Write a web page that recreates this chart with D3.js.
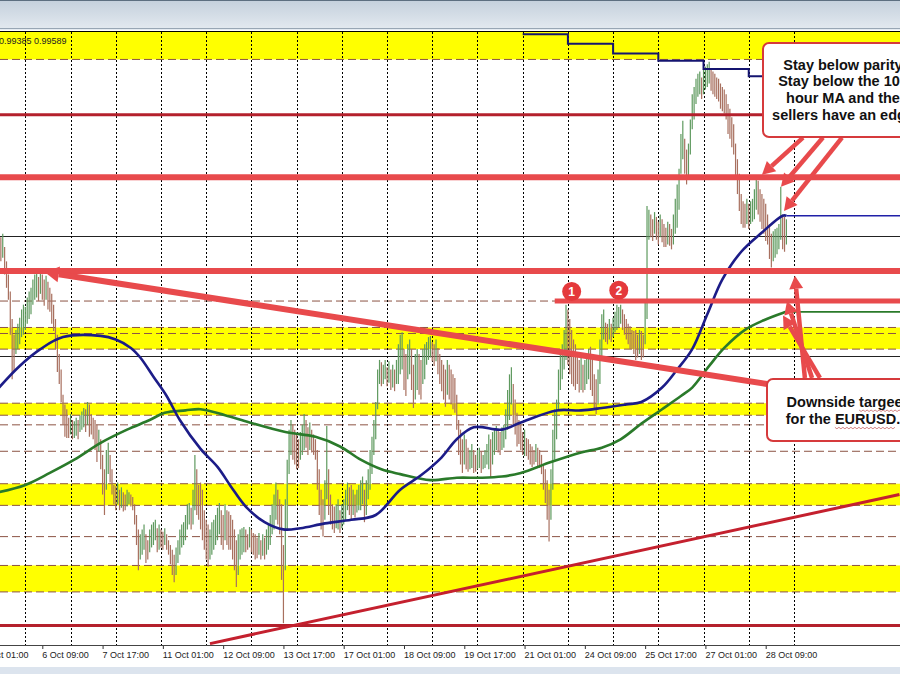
<!DOCTYPE html>
<html>
<head>
<meta charset="utf-8">
<title>EURUSD H1</title>
<script src="https://cdnjs.cloudflare.com/ajax/libs/d3/7.8.5/d3.min.js"></script>
<style>
html, body { margin: 0; padding: 0; background: #fff; overflow: hidden; }
svg { display: block; font-family: "Liberation Sans", Arial, sans-serif; }
</style>
</head>
<body>
<div id="graph"></div>
<script>
const width = 900,
    height = 674,
    plotTop = 32,     // below the window title strip
    plotBottom = 645; // time axis line

// EURUSD hourly bars, bar 0 = 5 Oct 01:00, prices x 10000
const firstBar = 10;
const highs = [
  9950,9953,9942,9930,9919,9905,9882,9869,
  9873,9878,9883,9890,9894,9892,9900,9905,9908,
  9915,9919,9922,9917,9921,9919,9915,9918,9913,9908,
  9903,9894,9882,9869,9853,9840,9819,9811,9807,
  9800,9803,9798,9797,9800,9798,9802,
  9805,9808,9807,9813,9811,9803,9800,9798,9794,9790,
  9782,9769,9757,9773,9779,9769,9757,9744,9743,9746,9740,9742,9738,9736,9740,9738,9736,9734,
  9728,9719,9707,9703,9707,9711,9703,9698,9707,9711,9713,9715,9708,9711,9707,9705,9708,9703,9698,
  9694,9690,9686,9692,9698,9707,9711,9713,9719,9728,9729,9725,9740,9769,9757,9744,9746,
  9740,9723,9715,9711,9707,9713,9715,9719,9725,9729,9723,9719,9728,9723,9722,
  9719,9715,9707,9698,9703,9707,9708,9709,9707,9703,9709,9707,9704,9703,9700,9704,9698,9703,9700,9707,9711,9719,9728,9736,9746,9740,9732,9728,9694,
  9732,9765,9790,9798,9794,9790,9786,9782,9788,9794,9803,9798,9792,9796,9790,9786,9782,
  9773,9757,9740,9732,9748,9793,9757,9736,9728,9726,9728,9732,9723,9728,9732,9740,9746,9742,9744,9740,9736,9740,9744,
  9748,9751,9740,9748,9757,9773,9784,9798,9813,9840,9848,9846,
  9844,9848,9842,9847,9840,9844,9840,9848,9861,9869,9871,9857,9853,9861,9865,9857,9844,9853,9857,9853,9848,9857,9861,
  9863,9867,9868,9863,9861,9865,9858,9853,9848,9844,9840,9848,9844,9840,9836,9833,
  9819,9798,9790,9782,9786,9782,9775,9773,9778,9773,9769,9773,9775,9772,9769,9773,9778,9786,9782,9788,9790,9793,9790,9788,9792,9794,
  9807,9823,9836,9842,9828,9815,9804,9798,9794,9788,9790,9783,9782,9778,9776,9773,9778,9775,9773,9769,9761,9757,9748,9740,9757,9790,9807,9815,
  9840,9857,9861,9873,9894,9890,9882,9873,9865,9861,9853,9848,9851,9844,9848,9853,9857,9859,9848,9836,9832,9840,
  9865,9886,9890,9879,9878,9882,9878,9883,9888,9894,9892,9894,9890,9886,9882,9878,9876,9873,9872,9873,9869,9873,9872,9869,
  9898,9976,9973,9969,9965,9971,9967,9963,9969,9965,9961,9958,9963,9961,9957,9969,9982,9994,10007,
  10036,10047,10032,10023,10028,10048,10069,10075,10082,10086,10088,10083,10090,
  10092,10094,10096,10090,10088,10086,10083,10082,10078,10075,10073,10069,10061,10057,10050,10044,
  10028,10015,10003,9986,9980,9978,9982,9978,9980,9982,9990,9998,9997,9990,9986,9982,9978,9969,9961,9953,9955,9957,9958,9961,9992,9969,9967,9965
];
const lows = [
  9930,9933,9919,9908,9898,9869,9832,9838,
  9853,9857,9861,9867,9869,9873,9878,9882,9886,
  9894,9898,9900,9897,9903,9898,9893,9898,9890,9888,
  9878,9872,9857,9838,9828,9813,9794,9784,9783,
  9783,9786,9782,9783,9785,9782,9788,
  9790,9792,9788,9794,9784,9786,9782,9773,9763,9772,
  9757,9736,9719,9740,9753,9746,9736,9728,9723,9728,9723,9725,9722,9723,9726,9728,9726,9723,
  9711,9694,9673,9682,9686,9690,9679,9682,9688,9692,9694,9698,9688,9690,9692,9690,9694,9690,9686,
  9678,9669,9663,9669,9679,9686,9692,9694,9698,9707,9711,9707,9711,9723,9719,9715,9707,
  9698,9690,9682,9676,9682,9686,9690,9694,9698,9703,9694,9690,9698,9694,9690,
  9690,9682,9673,9659,9669,9682,9686,9688,9688,9690,9692,9688,9686,9682,9683,9686,9682,9685,9682,9686,9690,9694,9703,9707,9715,9711,9703,9665,9629,
  9673,9707,9753,9769,9765,9761,9757,9758,9765,9769,9773,9775,9769,9773,9771,9769,9765,
  9740,9719,9707,9701,9715,9732,9719,9711,9707,9704,9708,9707,9704,9708,9711,9715,9723,9719,9715,9719,9717,9721,9723,
  9723,9728,9713,9719,9732,9740,9753,9769,9782,9807,9828,9826,
  9828,9832,9826,9829,9823,9825,9822,9828,9828,9836,9840,9823,9818,9832,9836,9823,9808,9815,9823,9819,9815,9828,9832,
  9844,9848,9850,9847,9843,9847,9836,9828,9822,9815,9809,9819,9815,9811,9807,9804,
  9790,9769,9761,9754,9761,9757,9755,9757,9758,9754,9755,9757,9758,9754,9757,9758,9761,9757,9750,9761,9769,9773,9771,9769,9773,9775,
  9782,9790,9798,9811,9794,9786,9776,9778,9773,9769,9768,9768,9765,9761,9759,9761,9763,9759,9758,9753,9740,9729,9715,9697,9715,9740,9765,9782,
  9807,9823,9832,9840,9848,9844,9836,9828,9826,9823,9828,9821,9823,9821,9823,9828,9832,9823,9818,9807,9803,9811,
  9828,9848,9865,9863,9861,9865,9863,9867,9871,9873,9875,9878,9873,9869,9865,9861,9857,9857,9853,9848,9850,9853,9848,9850,
  9861,9882,9948,9950,9947,9953,9948,9944,9950,9946,9942,9942,9944,9943,9940,9944,9953,9958,9973,
  10003,10015,10003,9994,9998,10019,10040,10048,10061,10067,10069,10065,10069,
  10073,10075,10078,10072,10069,10067,10065,10063,10057,10055,10053,10048,10036,10032,10025,10019,
  9998,9986,9972,9961,9958,9958,9961,9957,9961,9963,9965,9973,9969,9963,9957,9953,9947,9944,9932,9925,9930,9933,9936,9940,9948,9940,9938,9944
];

// time axis, a label every 32 bars
const tickBars = [0, 32, 64, 96, 128, 160, 192, 224, 256, 288, 320, 352, 384, 416];
const tickLabels = ["5 Oct 01:00", "6 Oct 09:00", "7 Oct 17:00", "11 Oct 01:00", "12 Oct 09:00",
  "13 Oct 17:00", "17 Oct 01:00", "18 Oct 09:00", "19 Oct 17:00", "21 Oct 01:00",
  "24 Oct 09:00", "25 Oct 17:00", "27 Oct 01:00", "28 Oct 09:00"];
// midnight bars (period separators)
const daySeparators = [23, 47, 71, 95, 119, 143, 167, 191, 215, 239, 263, 287, 311, 335, 359, 383, 407, 431];

// 100 hour MA (blue) and 200 hour MA (green)
const ma100Bars = [9,20,31,43,63,71,79,84,91,98,105,116,125,132,140,150,160,169,182,196,
  209,222,233,244,252,261,276,286,305,318,329,342,350,361,369,377,385,393,403,414,425,427];
const ma100 = [9825,9843,9857,9867,9868,9865,9858,9850,9834,9818,9798,9774,9759,9743,9726,9713,9707,9708,9712,9715,
  9719,9740,9752,9767,9782,9792,9790,9796,9806,9806,9808,9811,9813,9825,9840,9857,9886,9915,9938,9954,9968,9968];
const ma200Bars = [9,23,36,49,63,77,89,97,108,116,129,142,161,177,190,201,212,222,238,252,
  265,276,286,302,318,329,339,350,361,371,377,386,394,405,415,425,427];
const ma200 = [9738,9744,9754,9765,9779,9790,9798,9804,9806,9807,9802,9796,9788,9784,9776,9765,9757,9753,9748,9750,
  9750,9751,9754,9763,9771,9775,9782,9795,9807,9818,9825,9843,9858,9873,9881,9887,9888];
// daily MA shown as steps on the hourly chart
const dailyMaBars = [287, 311, 335, 359, 383, 407, 428];
const dailyMa = [10119, 10111, 10103, 10097, 10090, 10084, 10084];

// drawn levels
const bandTops = [10121, 9875, 9812, 9745, 9677];
const bandBottoms = [10098, 9857, 9802, 9727, 9655];
const dashedLevels = [10098, 9897, 9875, 9870, 9857, 9812, 9802, 9794, 9772, 9745, 9727, 9701, 9677, 9655];
const thinLevels = [9951, 9851];
const redLevels = [10000, 9922];
const darkRedLevels = [10052, 9627];
const targetLevel = 9897, targetFromBar = 304;
const trendDown = [[416.7, 9828], [33.4, 9921]];
const trendUp = [[121, 9612], [487, 9736]];
const swingMarks = [{bar: 313, price: 9905, label: "1"}, {bar: 338, price: 9906, label: "2"}];
// [fromBar, fromPrice, toBar, toPrice]
const topArrows = [[435.8, 10033, 414.0, 10002], [446.4, 10033, 424.1, 9992], [456.5, 10033, 425.7, 9972]];
const lowArrows = [[436.8, 9833, 431.5, 9918], [440.6, 9833, 427.3, 9897], [444.8, 9833, 425.2, 9885]];
const noteTop = ["Stay below parity", "Stay below the 100", "hour MA and the", "sellers have an edge"];
const noteLow = ["Downside targeet", "for the EURUSD..."];

const x = d3.scaleLinear().domain([0, 416]).range([-17.98, 765.7]);
const y = d3.scaleLinear().domain([9610.83, 10120.83]).range([plotBottom, plotTop]);

const svg = d3.select("#graph")
    .append("svg")
    .attr("width", width)
    .attr("height", height);

const defs = svg.append("defs");
const grad = defs.append("linearGradient").attr("id", "chrome")
    .attr("x1", 0).attr("y1", 0).attr("x2", 0).attr("y2", 1);
grad.append("stop").attr("offset", 0).attr("stop-color", "#c4d0dc");
grad.append("stop").attr("offset", 1).attr("stop-color", "#e4eaf0");
defs.append("clipPath").attr("id", "plot")
  .append("rect").attr("x", 0).attr("y", plotTop).attr("width", width).attr("height", plotBottom - plotTop);

// window chrome
svg.append("rect").attr("width", width).attr("height", 30).attr("fill", "url(#chrome)");
svg.append("line").attr("x1", 0).attr("x2", width).attr("y1", 0.5).attr("y2", 0.5).attr("stroke", "#5d6f80");
svg.append("line").attr("x1", 0).attr("x2", width).attr("y1", 28.5).attr("y2", 28.5).attr("stroke", "#98a6b4");
svg.append("rect").attr("y", 667).attr("width", width).attr("height", 7).attr("fill", "#dce4ee");

const plot = svg.append("g").attr("clip-path", "url(#plot)");

// yellow zones
plot.selectAll(".band")
  .data(bandTops)
  .enter()
  .append("rect")
  .attr("class", "band")
  .attr("x", 0)
  .attr("width", width)
  .attr("y", d => y(d))
  .attr("height", (d, i) => y(bandBottoms[i]) - y(d))
  .attr("fill", "#ffff00");

plot.selectAll(".dash")
  .data(dashedLevels)
  .enter()
  .append("line")
  .attr("class", "dash")
  .attr("x1", 0).attr("x2", width)
  .attr("y1", d => y(d)).attr("y2", d => y(d))
  .attr("stroke", "#8c5444")
  .attr("stroke-width", 1)
  .attr("stroke-dasharray", "8,4");

plot.selectAll(".thin")
  .data(thinLevels)
  .enter()
  .append("line")
  .attr("x1", 0).attr("x2", width)
  .attr("y1", d => Math.round(y(d)) + 0.5).attr("y2", d => Math.round(y(d)) + 0.5)
  .attr("stroke", "#222");

plot.selectAll(".sep")
  .data(daySeparators)
  .enter()
  .append("line")
  .attr("x1", d => Math.round(x(d)) + 0.5).attr("x2", d => Math.round(x(d)) + 0.5)
  .attr("y1", plotTop).attr("y2", plotBottom)
  .attr("stroke", "#000")
  .attr("stroke-dasharray", "2,2");

// hourly bars
const bars = highs.map((h, k) => ({ i: firstBar + k, h: h, l: lows[k] }));
plot.append("g").selectAll("line")
  .data(bars)
  .enter()
  .append("line")
  .attr("x1", d => x(d.i)).attr("x2", d => x(d.i))
  .attr("y1", d => y(d.h)).attr("y2", d => y(d.l))
  .attr("stroke-width", 1.2)
  .attr("stroke", (d, k) => {
    if (k == 0) return "#a8705f";
    const prev = bars[k - 1];
    return (d.h + d.l) >= (prev.h + prev.l) ? "#5f9a5f" : "#a8705f";
  });

// moving averages
const maLine = d3.line().curve(d3.curveCatmullRom).x(d => x(d[0])).y(d => y(d[1]));
plot.append("path")
  .attr("d", maLine(ma200Bars.map((b, i) => [b, ma200[i]])))
  .attr("fill", "none").attr("stroke", "#2a7a2a").attr("stroke-width", 2.6);
plot.append("path")
  .attr("d", maLine(ma100Bars.map((b, i) => [b, ma100[i]])))
  .attr("fill", "none").attr("stroke", "#1c1c88").attr("stroke-width", 2.6);
plot.append("path")
  .attr("d", d3.line().curve(d3.curveStepAfter).x(d => x(d[0])).y(d => y(d[1]))(dailyMaBars.map((b, i) => [b, dailyMa[i]])))
  .attr("fill", "none").attr("stroke", "#141470").attr("stroke-width", 2);
// MA levels carried to the right
[[ma100Bars, ma100, "#2020a8"], [ma200Bars, ma200, "#2a7a2a"]].forEach(m => {
  const last = m[1][m[1].length - 1];
  plot.append("line")
    .attr("x1", x(m[0][m[0].length - 1])).attr("x2", width)
    .attr("y1", y(last)).attr("y2", y(last))
    .attr("stroke", m[2]).attr("stroke-width", 1.6);
});

// dark red levels and rising trend line
plot.selectAll(".dred")
  .data(darkRedLevels)
  .enter()
  .append("line")
  .attr("x1", 0).attr("x2", width)
  .attr("y1", d => y(d)).attr("y2", d => y(d))
  .attr("stroke", "#b4202c").attr("stroke-width", 3);
plot.append("line")
  .attr("x1", x(trendUp[0][0])).attr("y1", y(trendUp[0][1]))
  .attr("x2", x(trendUp[1][0])).attr("y2", y(trendUp[1][1]))
  .attr("stroke", "#c4202e").attr("stroke-width", 3);

// thick red levels
const red = "#e84a4c";
plot.selectAll(".red")
  .data(redLevels)
  .enter()
  .append("line")
  .attr("x1", 0).attr("x2", width)
  .attr("y1", d => y(d)).attr("y2", d => y(d))
  .attr("stroke", red).attr("stroke-width", 6);
plot.append("line")
  .attr("x1", x(targetFromBar)).attr("x2", width)
  .attr("y1", y(targetLevel)).attr("y2", y(targetLevel))
  .attr("stroke", red).attr("stroke-width", 5);

function arrow(g, a, w, head, half) {
  const x1 = x(a[0]), y1 = y(a[1]), x2 = x(a[2]), y2 = y(a[3]);
  const ang = Math.atan2(y2 - y1, x2 - x1);
  const bx = x2 - head * Math.cos(ang), by = y2 - head * Math.sin(ang);
  g.append("line")
    .attr("x1", x1).attr("y1", y1).attr("x2", bx).attr("y2", by)
    .attr("stroke", red).attr("stroke-width", w);
  g.append("path")
    .attr("d", "M" + x2 + "," + y2 +
      "L" + (bx + half * Math.sin(ang)) + "," + (by - half * Math.cos(ang)) +
      "L" + (bx - half * Math.sin(ang)) + "," + (by + half * Math.cos(ang)) + "Z")
    .attr("fill", red);
}
arrow(plot, [trendDown[0][0], trendDown[0][1], trendDown[1][0], trendDown[1][1]], 6, 14, 8);

// swing highs 1 and 2
const marks = plot.selectAll(".mark").data(swingMarks).enter().append("g")
  .attr("transform", d => "translate(" + x(d.bar) + "," + y(d.price) + ")");
marks.append("circle").attr("r", 9.5).attr("fill", "#e4393b");
marks.append("text").text(d => d.label)
  .attr("text-anchor", "middle").attr("dy", "0.36em")
  .attr("fill", "#fff").attr("font-size", "12px").attr("font-weight", "bold");

// notes
topArrows.forEach(a => arrow(plot, a, 4.5, 13, 7));
lowArrows.forEach(a => arrow(plot, a, 4.5, 13, 7));

function note(bx, by, bh, cx, lines, first, step) {
  plot.append("rect")
    .attr("x", bx).attr("y", by).attr("width", 170).attr("height", bh)
    .attr("rx", 6)
    .attr("fill", "#fff").attr("stroke", "#d63a3c").attr("stroke-width", 2);
  return lines.map((t, i) => plot.append("text")
    .attr("x", cx).attr("y", first + i * step)
    .attr("text-anchor", "middle")
    .attr("font-size", "14.5px").attr("font-weight", "bold")
    .attr("fill", "#111")
    .text(t));
}
note(763, 43, 94, 843, noteTop, 69.5, 16.9);
const low = note(767, 379, 62, 847, noteLow, 407, 17.3);

// spell check squiggles under two words
[[low[0], 9, 7], [low[1], 8, 6]].forEach(s => {
  const node = s[0].node();
  const x0 = node.getStartPositionOfChar(0).x;
  const a = x0 + node.getSubStringLength(0, s[1]);
  const b = a + node.getSubStringLength(s[1], s[2]);
  const yy = +s[0].attr("y") + 3;
  let d = "M" + a + "," + yy;
  for (let p = a + 2; p <= b; p += 2) d += "L" + p + "," + (yy + ((p - a) % 4 == 0 ? 0 : 1.5));
  plot.append("path").attr("d", d).attr("fill", "none").attr("stroke", "#c86464").attr("stroke-width", 0.8);
});

// chart frame top and quote line
svg.append("line").attr("x1", 0).attr("x2", width).attr("y1", plotTop - 0.5).attr("y2", plotTop - 0.5).attr("stroke", "#000");
svg.append("text").attr("x", -1).attr("y", 44)
  .attr("font-size", "9px").attr("fill", "#222")
  .text("0.99385 0.99589");

// time axis
const xAxis = d3.axisBottom(x)
  .tickValues(tickBars)
  .tickFormat((d, i) => tickLabels[i])
  .tickSize(4);
const ax = svg.append("g")
  .attr("transform", "translate(0," + plotBottom + ")")
  .call(xAxis);
ax.select(".domain").remove();
ax.selectAll("line").attr("stroke", "#333");
ax.selectAll("text")
  .attr("text-anchor", "start")
  .attr("x", -0.5).attr("y", 7)
  .attr("font-family", "'Liberation Sans', Arial, sans-serif")
  .attr("font-size", "9px").attr("fill", "#222");
svg.append("line").attr("x1", 0).attr("x2", width)
  .attr("y1", plotBottom + 0.5).attr("y2", plotBottom + 0.5).attr("stroke", "#444");
</script>
</body>
</html>
